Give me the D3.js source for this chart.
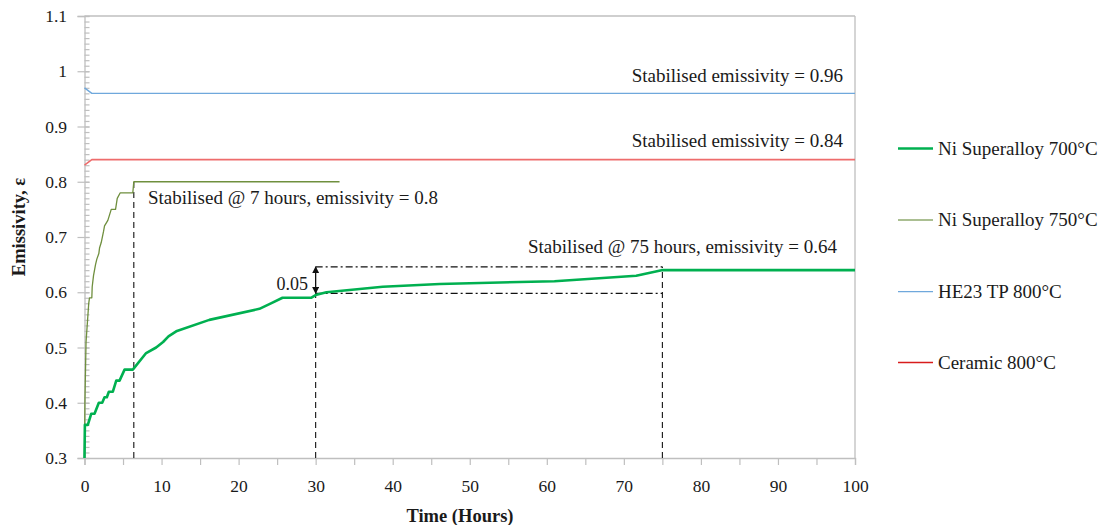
<!DOCTYPE html>
<html>
<head>
<meta charset="utf-8">
<script src="https://cdn.jsdelivr.net/npm/d3@7"></script>
<style>
  html, body { margin: 0; padding: 0; background: #fff; }
  svg { display: block; }
  text { font-family: "Liberation Serif", "DejaVu Serif", serif; fill: #1a1a1a; }
</style>
</head>
<body>
<svg id="chart" width="1101" height="525"></svg>
<script>
// Emissivity over time for four samples
const time700 = [0, 0.05, 0.43, 0.87, 1.3, 1.86, 2.3, 2.6, 2.9, 3.16, 3.68, 4.12, 4.55, 5.2, 6.27, 8.0, 9.3, 10.2, 10.9, 12.0, 16.2, 22.7, 24.2, 25.7, 29.4, 30.0, 31.4, 38.7, 46.1, 61.0, 71.6, 74.9, 75.5, 100];
const emis700 = [0.30, 0.36, 0.36, 0.38, 0.38, 0.40, 0.40, 0.41, 0.41, 0.42, 0.42, 0.44, 0.44, 0.46, 0.46, 0.49, 0.50, 0.51, 0.52, 0.53, 0.55, 0.57, 0.58, 0.59, 0.59, 0.595, 0.60, 0.61, 0.615, 0.62, 0.63, 0.64, 0.64, 0.64];

const time750 = [0, 0.05, 0.2, 0.4, 0.55, 0.65, 0.95, 1.0, 1.17, 1.43, 1.6, 1.86, 1.95, 2.17, 2.47, 2.6, 3.03, 3.25, 3.47, 4.03, 4.25, 4.64, 6.27, 6.4, 33.1];
const emis750 = [0.30, 0.40, 0.51, 0.55, 0.58, 0.59, 0.59, 0.61, 0.63, 0.65, 0.66, 0.67, 0.68, 0.69, 0.71, 0.72, 0.73, 0.74, 0.75, 0.75, 0.77, 0.78, 0.78, 0.80, 0.80];

const timeHE23 = [0, 0.95, 100];
const emisHE23 = [0.97, 0.96, 0.96];

const timeCeramic = [0, 0.95, 100];
const emisCeramic = [0.83, 0.84, 0.84];

const seriesNames = ["Ni Superalloy 700°C", "Ni Superalloy 750°C", "HE23 TP 800°C", "Ceramic 800°C"];

const xTickValues = [0, 10, 20, 30, 40, 50, 60, 70, 80, 90, 100];
const xTickLabels = ["0", "10", "20", "30", "40", "50", "60", "70", "80", "90", "100"];
const yTickValues = [0.3, 0.4, 0.5, 0.6, 0.7, 0.8, 0.9, 1.0, 1.1];
const yTickLabels = ["0.3", "0.4", "0.5", "0.6", "0.7", "0.8", "0.9", "1", "1.1"];

// Stabilisation markers
const stab750 = { t: 6.4, e: 0.80 };
const bandStart = 30, bandEnd = 75;
const bandLow = 0.598, bandHigh = 0.646;

const svg = d3.select("#chart");
const plotLeft = 84.5, plotRight = 855, plotTop = 16, plotBottom = 458;

const x = d3.scaleLinear().domain([0, 100]).range([plotLeft, plotRight]);
const y = d3.scaleLinear().domain([0.3, 1.1]).range([plotBottom, plotTop]);

const axisColor = "#bfbfbf";

// plot frame (top and right)
svg.append("line").attr("x1", plotLeft).attr("x2", plotRight).attr("y1", y(1.1)).attr("y2", y(1.1))
  .attr("stroke", axisColor).attr("stroke-width", 1.3);
svg.append("line").attr("x1", plotRight).attr("x2", plotRight).attr("y1", y(1.1)).attr("y2", y(0.3))
  .attr("stroke", axisColor).attr("stroke-width", 1.3);

// x axis: labelled majors + minor ticks at the 5s
const xMinor = d3.range(5, 100, 10);
const gx = svg.append("g").attr("transform", `translate(0,${plotBottom})`);
gx.call(d3.axisBottom(x).tickValues(xTickValues).tickSize(7).tickPadding(14.5)
  .tickFormat((d, i) => xTickLabels[i]));
svg.append("g").attr("transform", `translate(0,${plotBottom})`)
  .call(d3.axisBottom(x).tickValues(xMinor).tickSize(7).tickFormat(""))
  .call(g => g.select(".domain").remove());

// y axis: majors cross the axis, minors every 0.01 inside
const yMinor = d3.range(30, 111).map(v => v / 100);
svg.append("g").attr("transform", `translate(${plotLeft},0)`)
  .call(d3.axisRight(y).tickValues(yMinor).tickSize(5).tickFormat(""))
  .call(g => g.select(".domain").remove());
const gy = svg.append("g").attr("transform", `translate(${plotLeft},0)`);
gy.call(d3.axisLeft(y).tickValues(yTickValues).tickSize(7).tickPadding(10.5)
  .tickFormat((d, i) => yTickLabels[i]));
svg.append("g").attr("transform", `translate(${plotLeft},0)`)
  .call(d3.axisRight(y).tickValues(yTickValues).tickSize(5).tickFormat(""))
  .call(g => g.select(".domain").remove());

svg.selectAll(".domain").attr("stroke", axisColor).attr("stroke-width", 1.3);
svg.selectAll(".tick line").attr("stroke", axisColor).attr("stroke-width", 1.2);
svg.selectAll(".tick text").attr("font-size", 17.5).attr("fill", "#1a1a1a")
  .style("font-family", '"Liberation Serif", serif');

// axis titles
svg.append("text").attr("x", 460).attr("y", 522).attr("text-anchor", "middle")
  .attr("font-size", 18.5).attr("font-weight", "bold").text("Time (Hours)");
svg.append("text").attr("transform", `translate(25,227) rotate(-90)`).attr("text-anchor", "middle")
  .attr("font-size", 18.5).attr("font-weight", "bold").text("Emissivity, ε");

// guide lines
const guides = svg.append("g").attr("stroke", "#111").attr("stroke-width", 1.1).attr("fill", "none");
guides.append("line").attr("x1", x(stab750.t)).attr("x2", x(stab750.t))
  .attr("y1", y(0.3)).attr("y2", y(stab750.e)).attr("stroke-dasharray", "6,4");
guides.append("line").attr("x1", x(bandStart)).attr("x2", x(bandStart))
  .attr("y1", y(0.3)).attr("y2", y(bandLow)).attr("stroke-dasharray", "6,4");
guides.append("line").attr("x1", x(bandEnd)).attr("x2", x(bandEnd))
  .attr("y1", y(0.3)).attr("y2", y(bandHigh)).attr("stroke-dasharray", "6,4");
guides.append("line").attr("x1", x(bandStart)).attr("x2", x(bandEnd))
  .attr("y1", y(bandLow)).attr("y2", y(bandLow)).attr("stroke-dasharray", "7,3,2,3");
guides.append("line").attr("x1", x(bandStart)).attr("x2", x(bandEnd))
  .attr("y1", y(bandHigh)).attr("y2", y(bandHigh)).attr("stroke-dasharray", "7,3,2,3");

// double arrow marking the 0.05 band
const defs = svg.append("defs");
defs.append("marker").attr("id", "arrowHead").attr("viewBox", "0 0 10 10")
  .attr("refX", 9).attr("refY", 5).attr("markerWidth", 7).attr("markerHeight", 7)
  .attr("markerUnits", "userSpaceOnUse").attr("orient", "auto-start-reverse")
  .append("path").attr("d", "M0,0 L10,5 L0,10 z").attr("fill", "#111");
svg.append("line").attr("x1", x(bandStart)).attr("x2", x(bandStart))
  .attr("y1", y(bandLow)).attr("y2", y(bandHigh))
  .attr("stroke", "#111").attr("stroke-width", 1.3)
  .attr("marker-start", "url(#arrowHead)").attr("marker-end", "url(#arrowHead)");

// series lines
const line = d3.line().x(d => x(d[0])).y(d => y(d[1]));
const zip = (a, b) => a.map((v, i) => [v, b[i]]);

const series = [
  { name: seriesNames[0], data: zip(time700, emis700), color: "#00b050", width: 2.6 },
  { name: seriesNames[1], data: zip(time750, emis750), color: "#6f8f3e", width: 1.3 },
  { name: seriesNames[2], data: zip(timeHE23, emisHE23), color: "#6fa8dc", width: 1.4 },
  { name: seriesNames[3], data: zip(timeCeramic, emisCeramic), color: "#ee6c6c", width: 1.6 }
];

svg.append("g").selectAll("path").data(series.slice().reverse()).join("path")
  .attr("d", d => line(d.data)).attr("fill", "none")
  .attr("stroke", d => d.color).attr("stroke-width", d => d.width)
  .attr("stroke-linejoin", "round");

// annotations
const ann = svg.append("g").attr("font-size", 19);
ann.append("text").attr("x", 148).attr("y", 204).text("Stabilised @ 7 hours, emissivity = 0.8");
ann.append("text").attr("x", 837).attr("y", 253).attr("text-anchor", "end").text("Stabilised @ 75 hours, emissivity = 0.64");
ann.append("text").attr("x", 843).attr("y", 82).attr("text-anchor", "end").text("Stabilised emissivity = 0.96");
ann.append("text").attr("x", 843).attr("y", 147).attr("text-anchor", "end").text("Stabilised emissivity = 0.84");
ann.append("text").attr("x", 308).attr("y", 289.5).attr("text-anchor", "end").attr("font-size", 18).text("0.05");

// legend
const legendY = [148.5, 220, 291.7, 362.5];
const legendColors = ["#00b050", "#8faa6e", "#6fa8dc", "#d81c1c"];
const lg = svg.append("g").selectAll("g").data(series).join("g")
  .attr("transform", (d, i) => `translate(898,${legendY[i]})`);
lg.append("line").attr("x1", 0).attr("x2", 35).attr("y1", 0).attr("y2", 0)
  .attr("stroke", (d, i) => legendColors[i]).attr("stroke-width", (d, i) => i === 0 ? 2.6 : 1.3);
lg.append("text").attr("x", 40).attr("y", 6).attr("font-size", 19).text(d => d.name);
</script>
</body>
</html>
